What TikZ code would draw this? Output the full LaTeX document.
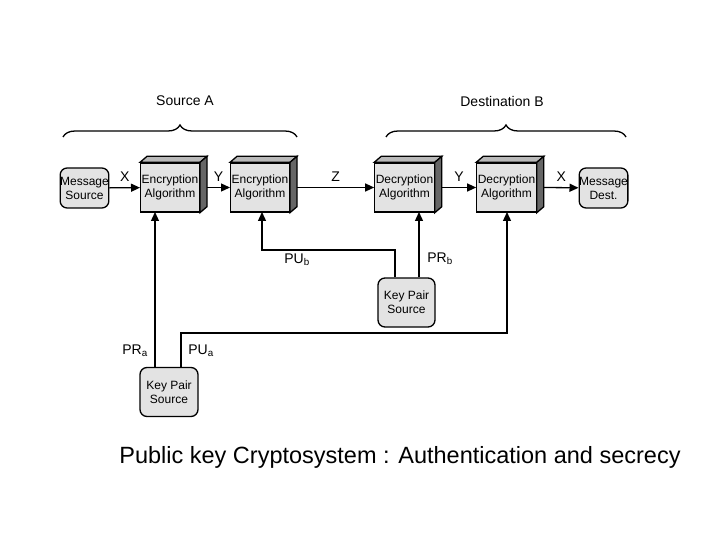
\documentclass[tikz,border=0pt]{standalone}
\usepackage{fontspec}
\setmainfont{Liberation Sans}
\usetikzlibrary{decorations.pathreplacing,arrows.meta}
\begin{document}
\begin{tikzpicture}[x=1pt,y=-1pt,line width=1.3pt,
  box/.style={draw,fill=gray!22,minimum width=56pt,minimum height=49pt,align=center,font=\fontsize{12}{14}\selectfont,inner sep=1pt},
  rbox/.style={draw,fill=gray!22,rounded corners=7pt,align=center,font=\fontsize{12}{14}\selectfont,inner sep=0pt},
  arr/.style={-{Triangle[length=9pt,width=8pt]}},
  lbl/.style={font=\fontsize{14}{16}\selectfont},
  brace/.style={decorate,decoration={brace,amplitude=12pt}}]
\useasboundingbox (0,0) rectangle (720,540);
\node[rbox,minimum width=45pt,minimum height=40pt] (ms) at (84.5,188) {Message\\Source};
\node[box] (e1) at (170,187.5) {Encryption\\Algorithm};
\node[box] (e2) at (260,187.5) {Encryption\\Algorithm};
\node[box] (d1) at (404.5,187.5) {Decryption\\Algorithm};
\node[box] (d2) at (506.5,187.5) {Decryption\\Algorithm};
\node[rbox,minimum width=43pt,minimum height=40pt] (md) at (603.5,188) {Message\\Dest.};
\node[rbox,minimum width=57pt,minimum height=49pt] (k1) at (406.5,302.5) {Key Pair\\Source};
\node[rbox,minimum width=58pt,minimum height=49pt] (k2) at (169,392) {Key Pair\\Source};
\foreach \n in {e1,e2,d1,d2}{
  \fill[gray!55,draw=black] (\n.north west) -- ++(7,-6) -- ([xshift=7pt,yshift=6pt]\n.north east) -- (\n.north east) -- cycle;
  \fill[gray!80!black,draw=black] (\n.north east) -- ++(7,-6) -- ([xshift=7pt,yshift=6pt]\n.south east) -- (\n.south east) -- cycle;
}
\draw[arr] (ms) -- node[lbl,above=2pt]{X} (e1);
\draw[arr] ([xshift=7pt]e1.east) -- node[lbl,above=2pt]{Y} (e2);
\draw[arr] ([xshift=7pt]e2.east) -- node[lbl,above=2pt]{Z} (d1);
\draw[arr] ([xshift=7pt]d1.east) -- node[lbl,above=2pt]{Y} (d2);
\draw[arr] ([xshift=7pt]d2.east) -- node[lbl,above=2pt]{X} (md);
\coordinate (pub) at (395,250);
\draw[arr] (k1.north -| pub) -- (pub) -| (262,212);
\node[lbl] (lpub) at (297,260) {PU\textsubscript{b}};
\draw[arr] (k1.north -| 419,0) -- (419,212);
\node[lbl] (lprb) at (440,259) {PR\textsubscript{b}};
\draw[arr] (k2.north -| 155,0) -- (155,212);
\node[lbl] (lpra) at (135,351) {PR\textsubscript{a}};
\coordinate (pua) at (181,333);
\draw[arr] (k2.north -| pua) -- (pua) -| (507,212);
\node[lbl] (lpua) at (201,351) {PU\textsubscript{a}};
\draw[brace] (63,137) -- (297,137);
\node[lbl] (sa) at (185,101) {Source A};
\draw[brace] (386,137) -- (626,137);
\node[lbl] (db) at (502,101) {Destination B};
\node[font=\fontsize{23.5}{26}\selectfont] (cap) at (400,457) {Public key Cryptosystem : Authentication and secrecy};
\end{tikzpicture}
\end{document}
